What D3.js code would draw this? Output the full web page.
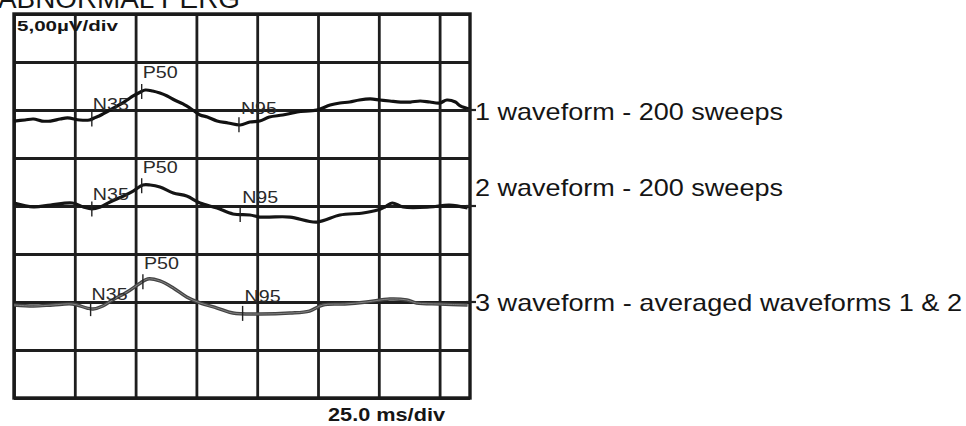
<!DOCTYPE html>
<html>
<head>
<meta charset="utf-8">
<script src="https://cdn.jsdelivr.net/npm/d3@7/dist/d3.min.js"></script>
<style>
  body { margin: 0; background: #fff; }
  svg { display: block; }
  text { font-family: "Liberation Sans", Arial, sans-serif; fill: #151515; }
</style>
</head>
<body>
<script>
// ---- data (time in ms, amplitude in µV relative to trace baseline) ----
const title = "ABNORMAL PERG";
const yUnitLabel = "5,00µV/div";
const xUnitLabel = "25.0 ms/div";
const msPerDiv = 25;
const uvPerDiv = 5;
const xDivs = 7.5;
const yDivs = 8;

const traceNames = ["1 waveform - 200 sweeps", "2 waveform - 200 sweeps", "3 waveform - averaged waveforms 1 & 2"];
const traceBaselines = [30, 20, 10]; // µV level of each trace's zero line on the grid

const trace1 = [[0,-1.15],[4.5,-1.04],[8,-0.94],[11.5,-1.15],[15,-1.15],[19,-0.94],[22,-0.83],[27,-1.04],[31,-1.04],[33,-0.83],[35,-0.63],[38,-0.21],[41,0.21],[44,0.63],[46.5,1.04],[49,1.46],[52,1.88],[54,2.08],[57,1.98],[60,1.77],[63,1.46],[66,1.04],[69.5,0.63],[73.5,0],[76.5,-0.52],[79.5,-0.73],[83.5,-1.15],[88,-1.35],[93,-1.56],[97,-1.25],[101,-1.15],[105,-0.73],[110.5,-0.52],[116.5,-0.21],[124.5,0],[130,0.52],[134,0.73],[138,0.83],[142,1.04],[146.5,1.15],[150.5,1.04],[154.5,0.94],[159,0.83],[163,0.83],[167,0.94],[171,0.83],[175,0.73],[178,1.04],[181.5,0.83],[183.5,0.42],[187,0.1]];
const trace2 = [[0,0.31],[8,-0.1],[15,0.1],[24,0.31],[28.5,-0.1],[32,-0.31],[35.5,-0.1],[39.5,0.42],[45,1.04],[49,1.56],[53,2.19],[56,2.19],[60,1.98],[65.5,1.35],[71,1.04],[76.5,0.31],[83.5,-0.21],[90,-0.83],[97,-0.94],[101,-1.15],[105,-1.15],[113.5,-1.15],[124.5,-1.67],[134,-0.94],[143.5,-0.73],[149.5,-0.42],[152.5,-0.1],[155.5,0.31],[160,-0.1],[171,-0.1],[179,0.1],[186.5,-0.21]];
const trace3 = [[0,-0.31],[8,-0.42],[16,-0.31],[24,-0.21],[30,-0.63],[32.5,-0.73],[36.5,-0.42],[40.5,0.21],[46.5,1.04],[52,1.98],[55,2.4],[60,2.19],[65.5,1.46],[71,0.52],[76.5,-0.1],[83.5,-0.63],[90,-1.15],[101,-1.25],[113.5,-1.15],[121.5,-0.94],[127,-0.31],[136,-0.21],[145,0],[154.5,0.31],[161.5,0.21],[165.5,-0.1],[175,-0.21],[186.5,-0.31]];

const markerNames = ["N35", "P50", "N95"];
const trace1Markers = [32, 52.5, 92.5];
const trace2Markers = [32, 52.5, 93];
const trace3Markers = [31.5, 53, 94];

// ---- layout ----
const W = 966, H = 426;
const plot = { left: 14, top: 14, right: 470, bottom: 398 };

const svg = d3.select("body").append("svg").attr("width", W).attr("height", H);

const x = d3.scaleLinear().domain([0, msPerDiv * xDivs]).range([plot.left, plot.right]);
const y = d3.scaleLinear().domain([0, uvPerDiv * yDivs]).range([plot.bottom, plot.top]);

// title (cropped at top in reference)
svg.append("text").attr("x", -2).attr("y", 8)
  .attr("font-size", 27).attr("textLength", 242).attr("lengthAdjust", "spacingAndGlyphs")
  .text(title);

// grid via axes
const xTicks = d3.range(0, msPerDiv * xDivs, msPerDiv);
const yTicks = d3.range(0, uvPerDiv * yDivs + 0.001, uvPerDiv);

const gx = svg.append("g").attr("transform", `translate(0,${plot.top})`)
  .call(d3.axisTop(x).tickValues(xTicks).tickSize(-(plot.bottom - plot.top)).tickFormat(""));
const gy = svg.append("g").attr("transform", `translate(${plot.left},0)`)
  .call(d3.axisLeft(y).tickValues(yTicks).tickSize(-(plot.right - plot.left)).tickFormat(""));
[gx, gy].forEach(g => {
  g.select(".domain").remove();
  g.selectAll(".tick line").attr("stroke", "#1e1e1e").attr("stroke-width", 2.8);
});

// border
svg.append("rect")
  .attr("x", plot.left).attr("y", plot.top)
  .attr("width", plot.right - plot.left).attr("height", plot.bottom - plot.top)
  .attr("fill", "none").attr("stroke", "#1a1a1a").attr("stroke-width", 3.4);

// unit labels
svg.append("text").attr("x", 17).attr("y", 31)
  .attr("font-size", 15).attr("font-weight", "bold")
  .attr("textLength", 101).attr("lengthAdjust", "spacingAndGlyphs")
  .text(yUnitLabel);
svg.append("text").attr("x", 328).attr("y", 421)
  .attr("font-size", 18).attr("font-weight", "bold")
  .attr("textLength", 117).attr("lengthAdjust", "spacingAndGlyphs")
  .text(xUnitLabel);

// traces
const traces = [trace1, trace2, trace3];
const markers = [trace1Markers, trace2Markers, trace3Markers];
const traceStyles = [
  { stroke: "#111", width: 3.2 },
  { stroke: "#151515", width: 3.2 },
  { stroke: "#444", width: 3.4 }
];

function interp(data, t) {
  const i = d3.bisector(d => d[0]).left(data, t);
  if (i <= 0) return data[0][1];
  if (i >= data.length) return data[data.length - 1][1];
  const a = data[i - 1], b = data[i];
  return a[1] + (b[1] - a[1]) * (t - a[0]) / (b[0] - a[0]);
}

const labelDy = { N35: -9, P50: -13, N95: -11 };
const labelDx = { N35: 1, P50: 1, N95: 2 };
const labelWidths = { N35: 36, P50: 35, N95: 36 };

traces.forEach((data, k) => {
  const base = traceBaselines[k];
  const line = d3.line().x(d => x(d[0])).y(d => y(base + d[1])).curve(d3.curveCatmullRom.alpha(0.5));
  svg.append("path").datum(data)
    .attr("d", line)
    .attr("fill", "none")
    .attr("stroke", traceStyles[k].stroke)
    .attr("stroke-width", traceStyles[k].width)
    .attr("stroke-linejoin", "round");
  if (k === 2) {
    svg.append("path").datum(data)
      .attr("d", line)
      .attr("fill", "none")
      .attr("stroke", "#8a8a8a")
      .attr("stroke-width", 0.9);
  }

  // peak markers
  markers[k].forEach((t, j) => {
    const name = markerNames[j];
    const cx = x(t), cy = y(base + interp(data, t));
    svg.append("line")
      .attr("x1", cx).attr("x2", cx)
      .attr("y1", cy - 7.5).attr("y2", cy + 7.5)
      .attr("stroke", "#222").attr("stroke-width", 1.4);
    svg.append("text")
      .attr("x", cx + labelDx[name]).attr("y", cy + labelDy[name])
      .attr("font-size", 17)
      .attr("textLength", labelWidths[name]).attr("lengthAdjust", "spacingAndGlyphs")
      .style("fill", "#2a2a2a")
      .text(name);
  });

  // right side baseline tick + label
  svg.append("line")
    .attr("x1", plot.right - 4).attr("x2", plot.right + 6)
    .attr("y1", y(base)).attr("y2", y(base))
    .attr("stroke", "#222").attr("stroke-width", 2.2);
});

const labelLengths = [308, 308, 487];
const labelBaselines = [120, 196, 311];
traceNames.forEach((name, k) => {
  svg.append("text")
    .attr("x", 475).attr("y", labelBaselines[k])
    .attr("font-size", 24)
    .attr("textLength", labelLengths[k]).attr("lengthAdjust", "spacingAndGlyphs")
    .text(name);
});
</script>
</body>
</html>
